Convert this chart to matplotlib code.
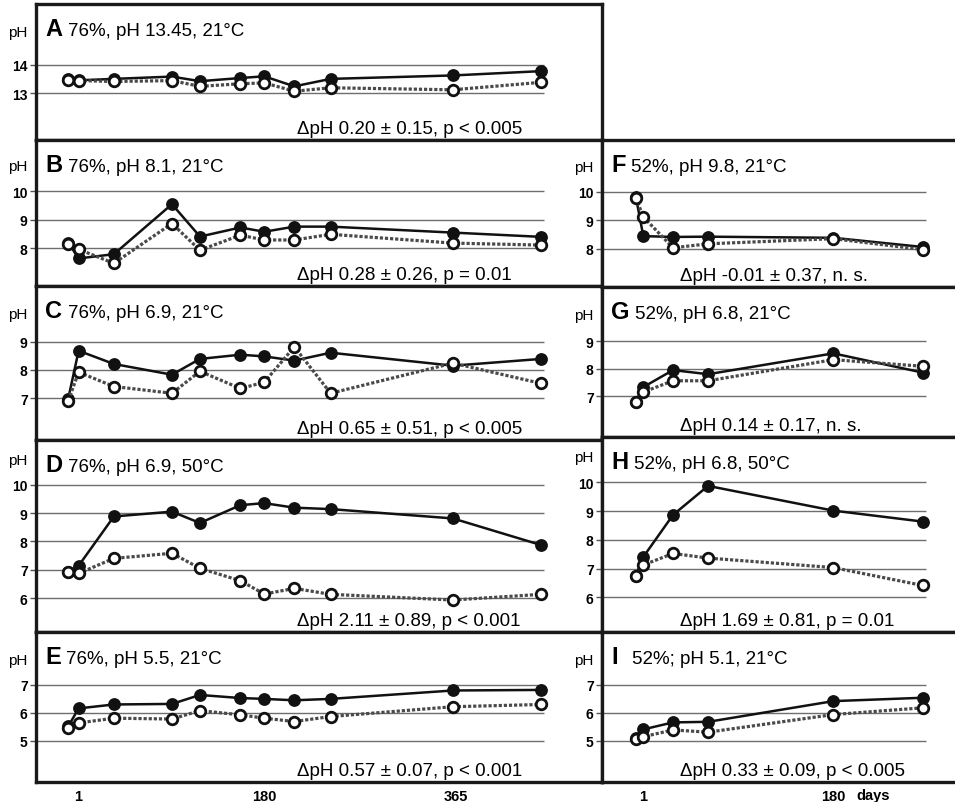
import matplotlib
matplotlib.use("Agg")
import matplotlib.pyplot as plt

plt.rcParams['font.family'] = ['Liberation Sans', 'DejaVu Sans']

# ---------------- data ----------------
days_76 = [-9, 1, 35, 91, 118, 157, 180, 209, 244, 362, 447]
days_52 = [-6, 1, 29, 62, 180, 264]

letters = ['A', 'B', 'C', 'D', 'E', 'F', 'G', 'H', 'I']
titles = ['76%, pH 13.45, 21°C', '76%, pH 8.1, 21°C', '76%, pH 6.9, 21°C',
          '76%, pH 6.9, 50°C', '76%, pH 5.5, 21°C', '52%, pH 9.8, 21°C',
          '52%, pH 6.8, 21°C', '52%, pH 6.8, 50°C', '52%; pH 5.1, 21°C']
stats = ['ΔpH 0.20 ± 0.15, p < 0.005', 'ΔpH 0.28 ± 0.26, p = 0.01',
         'ΔpH 0.65 ± 0.51, p < 0.005', 'ΔpH 2.11 ± 0.89, p < 0.001',
         'ΔpH 0.57 ± 0.07, p < 0.001', 'ΔpH -0.01 ± 0.37, n. s.',
         'ΔpH 0.14 ± 0.17, n. s.', 'ΔpH 1.69 ± 0.81, p = 0.01',
         'ΔpH 0.33 ± 0.09, p < 0.005']

filled_A = [13.50, 13.45, 13.50, 13.58, 13.42, 13.53, 13.59, 13.24, 13.50, 13.62, 13.77]
open_A = [13.47, 13.44, 13.41, 13.44, 13.24, 13.33, 13.36, 13.07, 13.19, 13.12, 13.38]
filled_B = [8.20, 7.64, 7.79, 9.55, 8.41, 8.73, 8.58, 8.76, 8.76, 8.55, 8.40]
open_B = [8.16, 7.96, 7.47, 8.87, 7.93, 8.46, 8.29, 8.29, 8.49, 8.18, 8.11]
filled_C = [6.98, 8.68, 8.21, 7.83, 8.39, 8.54, 8.48, 8.33, 8.61, 8.15, 8.39]
open_C = [6.91, 7.92, 7.41, 7.17, 7.95, 7.34, 7.56, 8.82, 7.17, 8.24, 7.52]
filled_D = [6.93, 7.14, 8.88, 9.05, 8.65, 9.28, 9.35, 9.19, 9.14, 8.81, 7.87]
open_D = [6.91, 6.87, 7.40, 7.58, 7.05, 6.61, 6.14, 6.34, 6.13, 5.93, 6.13]
filled_E = [5.51, 6.15, 6.29, 6.31, 6.63, 6.52, 6.49, 6.44, 6.49, 6.79, 6.81]
open_E = [5.46, 5.63, 5.80, 5.77, 6.07, 5.92, 5.80, 5.68, 5.86, 6.21, 6.29]
filled_F = [9.82, 8.45, 8.42, 8.43, 8.39, 8.07]
open_F = [9.79, 9.12, 8.04, 8.18, 8.36, 7.98]
filled_G = [6.80, 7.33, 7.95, 7.80, 8.56, 7.86]
open_G = [6.78, 7.15, 7.56, 7.56, 8.33, 8.09]
filled_H = [6.76, 7.41, 8.87, 9.88, 9.02, 8.64]
open_H = [6.76, 7.13, 7.53, 7.37, 7.04, 6.42]
filled_I = [5.08, 5.40, 5.65, 5.67, 6.41, 6.53]
open_I = [5.06, 5.14, 5.38, 5.30, 5.93, 6.17]

yticks_A = [13, 14]
yticks_B = [8, 9, 10]
yticks_C = [7, 8, 9]
yticks_D = [6, 7, 8, 9, 10]
yticks_E = [5, 6, 7]

xticks_76 = [1, 180, 365]
xticklabels_76 = ['1', '180', '365']
xticks_52 = [1, 180]
xticklabels_52 = ['1', '180']

# ---------------- layout (pixels) ----------------
W, H = 955, 803
fig = plt.figure(figsize=(W / 100, H / 100), dpi=100)

left_x = (36, 602)
right_x = (602, 955)
rows_left = [(5, 141), (141, 287), (287, 441), (441, 633), (633, 783)]
rows_right = [(141, 288), (288, 438), (438, 633), (633, 783)]
row_ylims = [(11.37, 16.11), (6.67, 11.81), (5.51, 10.98), (4.80, 11.58), (3.52, 8.88)]
xlim_left = (-40.1, 505.7)
xlim_right = (-37.9, 294.6)

panels = [
    (letters[0], titles[0], stats[0], days_76, filled_A, open_A, yticks_A, 'L', 0),
    (letters[1], titles[1], stats[1], days_76, filled_B, open_B, yticks_B, 'L', 1),
    (letters[2], titles[2], stats[2], days_76, filled_C, open_C, yticks_C, 'L', 2),
    (letters[3], titles[3], stats[3], days_76, filled_D, open_D, yticks_D, 'L', 3),
    (letters[4], titles[4], stats[4], days_76, filled_E, open_E, yticks_E, 'L', 4),
    (letters[5], titles[5], stats[5], days_52, filled_F, open_F, yticks_B, 'R', 1),
    (letters[6], titles[6], stats[6], days_52, filled_G, open_G, yticks_C, 'R', 2),
    (letters[7], titles[7], stats[7], days_52, filled_H, open_H, yticks_D, 'R', 3),
    (letters[8], titles[8], stats[8], days_52, filled_I, open_I, yticks_E, 'R', 4),
]


def fx(px):
    return px / W


def fy(py):
    return 1 - py / H


for letter, title, stat, days, yf, yo, yt, side, row in panels:
    if side == 'L':
        x0, x1 = left_x
        y0, y1 = rows_left[row]
        xlim = xlim_left
        stat_x = 297
    else:
        x0, x1 = right_x
        y0, y1 = rows_right[row - 1]
        xlim = xlim_right
        stat_x = 680
    ax = fig.add_axes([fx(x0), fy(y1), (x1 - x0) / W, (y1 - y0) / H])
    ax.set_xlim(*xlim)
    ylim = row_ylims[row]
    ax.set_ylim(*ylim)
    ax.set_facecolor('white')
    for s in ax.spines.values():
        s.set_linewidth(2.4)
        s.set_color('#1a1a1a')
    if side == 'R':
        ax.spines['right'].set_visible(False)

    # grid lines up to the last sampling day
    ax.hlines(yt, xlim[0], days[-1] + 3, color='#6e6e6e', lw=1.0, zorder=1)

    ax.plot(days, yf, color='#111111', lw=1.8, marker='o', ms=8.2,
            mfc='#111111', mec='#111111', zorder=3)
    ax.plot(days, yo, color='#4a4a4a', lw=2.3, ls=(0, (1.0, 0.6)),
            marker='o', ms=7.6, mfc='white', mec='#111111', mew=2.0, zorder=4)

    ax.set_yticks(yt)
    ax.set_yticklabels([str(v) for v in yt], fontweight='bold', fontsize=10)
    ax.tick_params(axis='y', direction='out', length=4, width=1.0,
                   color='#555555', pad=2)

    if row == 4:
        if side == 'L':
            ax.set_xticks(xticks_76)
            ax.set_xticklabels(xticklabels_76, fontweight='bold', fontsize=10.5)
        else:
            ax.set_xticks(xticks_52)
            ax.set_xticklabels(xticklabels_52, fontweight='bold', fontsize=10.5)
        ax.tick_params(axis='x', length=0, pad=5)
    else:
        ax.set_xticks([])

    # "pH" axis label above the tick labels
    top_tick_px = y0 + (ylim[1] - max(yt)) / (ylim[1] - ylim[0]) * (y1 - y0)
    ph_y = min(y0 + 32, top_tick_px - 21)
    ph_x = x0 - 18
    fig.text(fx(ph_x), fy(ph_y), 'pH', fontsize=11, ha='center', va='baseline')

    # panel title
    lt = fig.text(fx(x0 + 9), fy(y0 + 31), letter, fontsize=17,
                  fontweight='bold', ha='left', va='baseline')
    gap = 10 if letter == 'I' else 4
    ax.annotate(title, xy=(1, fy(y0 + 31)), xycoords=(lt, 'figure fraction'),
                xytext=(gap, 0), textcoords='offset points',
                fontsize=13.5, ha='left', va='baseline')

    # statistics
    fig.text(fx(stat_x), fy(y1 - 7), stat, fontsize=13.5, ha='left',
             va='baseline')

fig.text(fx(856), fy(800), 'days', fontsize=10.5, fontweight='bold',
         ha='left', va='baseline')

fig.savefig('out.png', dpi=100, facecolor='white')
